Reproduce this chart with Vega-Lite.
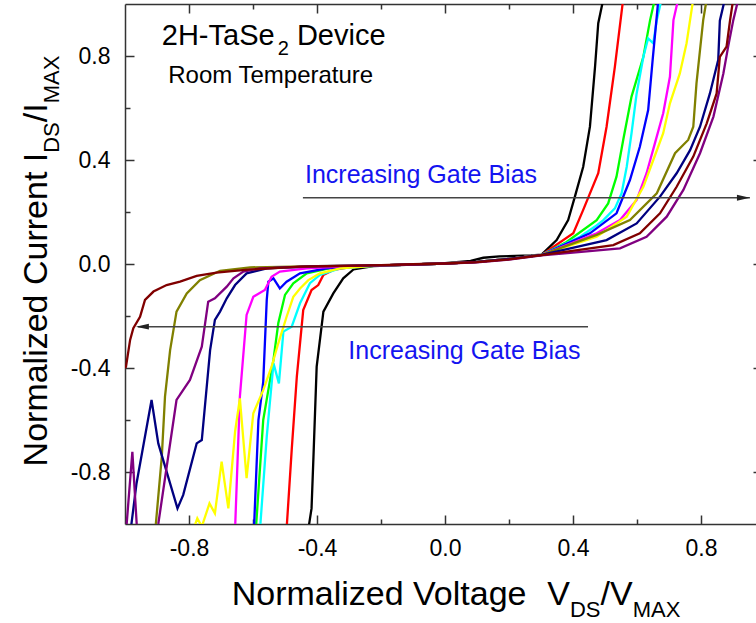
{
  "$schema": "https://vega.github.io/schema/vega-lite/v6.json",
  "autosize": "none",
  "width": 631,
  "height": 520,
  "padding": {"left": 125, "top": 4, "right": 0, "bottom": 99},
  "background": "white",
  "config": {"view": {"stroke": null}},
  "resolve": {"axis": {"x": "independent", "y": "independent"}},
  "layer": [
    {
      "data": {"values": [
        {"s":"G01","x":-0.427,"y":-1.02},{"s":"G01","x":-0.417,"y":-0.94},{"s":"G01","x":-0.411,"y":-0.741},{"s":"G01","x":-0.401,"y":-0.395},{"s":"G01","x":-0.38,"y":-0.183},{"s":"G01","x":-0.349,"y":-0.113},{"s":"G01","x":-0.318,"y":-0.055},{"s":"G01","x":-0.286,"y":-0.021},{"s":"G01","x":-0.224,"y":-0.008},{"s":"G01","x":-0.1,"y":-0.002},{"s":"G01","x":0,"y":0.003},{"s":"G01","x":0.08,"y":0.012},{"s":"G01","x":0.12,"y":0.024},{"s":"G01","x":0.17,"y":0.029},{"s":"G01","x":0.22,"y":0.031},{"s":"G01","x":0.27,"y":0.033},{"s":"G01","x":0.302,"y":0.036},{"s":"G01","x":0.349,"y":0.092},{"s":"G01","x":0.385,"y":0.169},{"s":"G01","x":0.406,"y":0.259},{"s":"G01","x":0.432,"y":0.374},{"s":"G01","x":0.453,"y":0.528},{"s":"G01","x":0.469,"y":0.759},{"s":"G01","x":0.479,"y":0.926},{"s":"G01","x":0.495,"y":1.02},
        {"s":"G02","x":-0.495,"y":-1.02},{"s":"G02","x":-0.479,"y":-0.715},{"s":"G02","x":-0.463,"y":-0.433},{"s":"G02","x":-0.443,"y":-0.177},{"s":"G02","x":-0.417,"y":-0.1},{"s":"G02","x":-0.396,"y":-0.081},{"s":"G02","x":-0.38,"y":-0.042},{"s":"G02","x":-0.349,"y":-0.023},{"s":"G02","x":-0.286,"y":-0.01},{"s":"G02","x":-0.2,"y":-0.005},{"s":"G02","x":-0.1,"y":-0.002},{"s":"G02","x":0,"y":0.002},{"s":"G02","x":0.1,"y":0.008},{"s":"G02","x":0.2,"y":0.02},{"s":"G02","x":0.302,"y":0.035},{"s":"G02","x":0.401,"y":0.118},{"s":"G02","x":0.432,"y":0.208},{"s":"G02","x":0.479,"y":0.349},{"s":"G02","x":0.505,"y":0.528},{"s":"G02","x":0.531,"y":0.759},{"s":"G02","x":0.557,"y":1.02},
        {"s":"G03","x":-0.591,"y":-1.02},{"s":"G03","x":-0.568,"y":-0.6},{"s":"G03","x":-0.536,"y":-0.369},{"s":"G03","x":-0.521,"y":-0.228},{"s":"G03","x":-0.5,"y":-0.119},{"s":"G03","x":-0.474,"y":-0.074},{"s":"G03","x":-0.432,"y":-0.036},{"s":"G03","x":-0.349,"y":-0.013},{"s":"G03","x":-0.2,"y":-0.005},{"s":"G03","x":-0.1,"y":-0.002},{"s":"G03","x":0,"y":0.002},{"s":"G03","x":0.1,"y":0.008},{"s":"G03","x":0.2,"y":0.02},{"s":"G03","x":0.302,"y":0.035},{"s":"G03","x":0.38,"y":0.085},{"s":"G03","x":0.474,"y":0.169},{"s":"G03","x":0.51,"y":0.233},{"s":"G03","x":0.536,"y":0.336},{"s":"G03","x":0.557,"y":0.477},{"s":"G03","x":0.583,"y":0.644},{"s":"G03","x":0.62,"y":0.797},{"s":"G03","x":0.641,"y":0.938},{"s":"G03","x":0.656,"y":1.02},
        {"s":"G04","x":-0.578,"y":-1.02},{"s":"G04","x":-0.557,"y":-0.664},{"s":"G04","x":-0.536,"y":-0.382},{"s":"G04","x":-0.519,"y":-0.459},{"s":"G04","x":-0.505,"y":-0.26},{"s":"G04","x":-0.479,"y":-0.241},{"s":"G04","x":-0.453,"y":-0.151},{"s":"G04","x":-0.422,"y":-0.074},{"s":"G04","x":-0.391,"y":-0.042},{"s":"G04","x":-0.328,"y":-0.017},{"s":"G04","x":-0.2,"y":-0.005},{"s":"G04","x":-0.1,"y":-0.002},{"s":"G04","x":0,"y":0.002},{"s":"G04","x":0.1,"y":0.008},{"s":"G04","x":0.2,"y":0.02},{"s":"G04","x":0.302,"y":0.035},{"s":"G04","x":0.422,"y":0.105},{"s":"G04","x":0.469,"y":0.144},{"s":"G04","x":0.495,"y":0.169},{"s":"G04","x":0.531,"y":0.214},{"s":"G04","x":0.552,"y":0.272},{"s":"G04","x":0.568,"y":0.374},{"s":"G04","x":0.583,"y":0.503},{"s":"G04","x":0.599,"y":0.656},{"s":"G04","x":0.62,"y":0.797},{"s":"G04","x":0.635,"y":0.868},{"s":"G04","x":0.651,"y":0.849},{"s":"G04","x":0.662,"y":0.938},{"s":"G04","x":0.677,"y":1.02},
        {"s":"G05","x":-0.597,"y":-1.02},{"s":"G05","x":-0.583,"y":-0.6},{"s":"G05","x":-0.568,"y":-0.453},{"s":"G05","x":-0.557,"y":-0.138},{"s":"G05","x":-0.552,"y":-0.068},{"s":"G05","x":-0.536,"y":-0.055},{"s":"G05","x":-0.516,"y":-0.094},{"s":"G05","x":-0.495,"y":-0.068},{"s":"G05","x":-0.453,"y":-0.036},{"s":"G05","x":-0.37,"y":-0.017},{"s":"G05","x":-0.2,"y":-0.005},{"s":"G05","x":-0.1,"y":-0.002},{"s":"G05","x":0,"y":0.002},{"s":"G05","x":0.1,"y":0.008},{"s":"G05","x":0.2,"y":0.02},{"s":"G05","x":0.302,"y":0.035},{"s":"G05","x":0.453,"y":0.118},{"s":"G05","x":0.536,"y":0.195},{"s":"G05","x":0.578,"y":0.323},{"s":"G05","x":0.609,"y":0.451},{"s":"G05","x":0.635,"y":0.592},{"s":"G05","x":0.649,"y":0.785},{"s":"G05","x":0.667,"y":1.02},
        {"s":"G06","x":-0.656,"y":-1.02},{"s":"G06","x":-0.641,"y":-0.51},{"s":"G06","x":-0.62,"y":-0.196},{"s":"G06","x":-0.599,"y":-0.126},{"s":"G06","x":-0.563,"y":-0.1},{"s":"G06","x":-0.542,"y":-0.049},{"s":"G06","x":-0.516,"y":-0.029},{"s":"G06","x":-0.432,"y":-0.017},{"s":"G06","x":-0.3,"y":-0.008},{"s":"G06","x":-0.2,"y":-0.005},{"s":"G06","x":-0.1,"y":-0.002},{"s":"G06","x":0,"y":0.002},{"s":"G06","x":0.1,"y":0.008},{"s":"G06","x":0.2,"y":0.02},{"s":"G06","x":0.302,"y":0.035},{"s":"G06","x":0.474,"y":0.118},{"s":"G06","x":0.547,"y":0.169},{"s":"G06","x":0.599,"y":0.246},{"s":"G06","x":0.63,"y":0.349},{"s":"G06","x":0.656,"y":0.464},{"s":"G06","x":0.682,"y":0.58},{"s":"G06","x":0.703,"y":0.72},{"s":"G06","x":0.714,"y":0.938},{"s":"G06","x":0.729,"y":1.02},
        {"s":"G07","x":-0.786,"y":-1.02},{"s":"G07","x":-0.774,"y":-0.978},{"s":"G07","x":-0.76,"y":-1.01},{"s":"G07","x":-0.736,"y":-0.921},{"s":"G07","x":-0.719,"y":-0.959},{"s":"G07","x":-0.698,"y":-0.76},{"s":"G07","x":-0.677,"y":-0.94},{"s":"G07","x":-0.656,"y":-0.645},{"s":"G07","x":-0.641,"y":-0.517},{"s":"G07","x":-0.62,"y":-0.824},{"s":"G07","x":-0.599,"y":-0.574},{"s":"G07","x":-0.568,"y":-0.485},{"s":"G07","x":-0.542,"y":-0.395},{"s":"G07","x":-0.521,"y":-0.305},{"s":"G07","x":-0.495,"y":-0.203},{"s":"G07","x":-0.474,"y":-0.126},{"s":"G07","x":-0.453,"y":-0.094},{"s":"G07","x":-0.427,"y":-0.062},{"s":"G07","x":-0.391,"y":-0.036},{"s":"G07","x":-0.328,"y":-0.017},{"s":"G07","x":-0.2,"y":-0.005},{"s":"G07","x":-0.1,"y":-0.002},{"s":"G07","x":0,"y":0.002},{"s":"G07","x":0.1,"y":0.008},{"s":"G07","x":0.2,"y":0.02},{"s":"G07","x":0.302,"y":0.035},{"s":"G07","x":0.474,"y":0.105},{"s":"G07","x":0.568,"y":0.182},{"s":"G07","x":0.62,"y":0.297},{"s":"G07","x":0.651,"y":0.4},{"s":"G07","x":0.682,"y":0.503},{"s":"G07","x":0.703,"y":0.618},{"s":"G07","x":0.734,"y":0.733},{"s":"G07","x":0.755,"y":0.849},{"s":"G07","x":0.776,"y":1.02},
        {"s":"G08","x":-0.905,"y":-1.02},{"s":"G08","x":-0.885,"y":-0.741},{"s":"G08","x":-0.875,"y":-0.51},{"s":"G08","x":-0.859,"y":-0.331},{"s":"G08","x":-0.839,"y":-0.183},{"s":"G08","x":-0.807,"y":-0.113},{"s":"G08","x":-0.766,"y":-0.062},{"s":"G08","x":-0.703,"y":-0.026},{"s":"G08","x":-0.609,"y":-0.013},{"s":"G08","x":-0.4,"y":-0.008},{"s":"G08","x":-0.2,"y":-0.005},{"s":"G08","x":-0.1,"y":-0.002},{"s":"G08","x":0,"y":0.002},{"s":"G08","x":0.1,"y":0.008},{"s":"G08","x":0.2,"y":0.02},{"s":"G08","x":0.302,"y":0.035},{"s":"G08","x":0.474,"y":0.112},{"s":"G08","x":0.578,"y":0.169},{"s":"G08","x":0.662,"y":0.272},{"s":"G08","x":0.719,"y":0.426},{"s":"G08","x":0.76,"y":0.477},{"s":"G08","x":0.776,"y":0.528},{"s":"G08","x":0.786,"y":0.695},{"s":"G08","x":0.797,"y":0.823},{"s":"G08","x":0.807,"y":0.938},{"s":"G08","x":0.818,"y":1.02},
        {"s":"G09","x":-0.985,"y":-1.05},{"s":"G09","x":-0.964,"y":-0.844},{"s":"G09","x":-0.917,"y":-0.523},{"s":"G09","x":-0.896,"y":-0.69},{"s":"G09","x":-0.836,"y":-0.94},{"s":"G09","x":-0.818,"y":-0.888},{"s":"G09","x":-0.776,"y":-0.69},{"s":"G09","x":-0.76,"y":-0.677},{"s":"G09","x":-0.734,"y":-0.331},{"s":"G09","x":-0.719,"y":-0.215},{"s":"G09","x":-0.703,"y":-0.183},{"s":"G09","x":-0.682,"y":-0.132},{"s":"G09","x":-0.656,"y":-0.081},{"s":"G09","x":-0.62,"y":-0.036},{"s":"G09","x":-0.557,"y":-0.017},{"s":"G09","x":-0.4,"y":-0.008},{"s":"G09","x":-0.2,"y":-0.005},{"s":"G09","x":-0.1,"y":-0.002},{"s":"G09","x":0,"y":0.002},{"s":"G09","x":0.1,"y":0.008},{"s":"G09","x":0.2,"y":0.02},{"s":"G09","x":0.302,"y":0.035},{"s":"G09","x":0.505,"y":0.092},{"s":"G09","x":0.599,"y":0.156},{"s":"G09","x":0.672,"y":0.259},{"s":"G09","x":0.724,"y":0.349},{"s":"G09","x":0.766,"y":0.438},{"s":"G09","x":0.797,"y":0.528},{"s":"G09","x":0.828,"y":0.656},{"s":"G09","x":0.854,"y":0.785},{"s":"G09","x":0.859,"y":0.936},{"s":"G09","x":0.875,"y":1.02},
        {"s":"G10","x":-0.998,"y":-1.05},{"s":"G10","x":-0.977,"y":-0.722},{"s":"G10","x":-0.961,"y":-1.05},{"s":"G10","x":-0.93,"y":-1.15},{"s":"G10","x":-0.896,"y":-1.0},{"s":"G10","x":-0.839,"y":-0.523},{"s":"G10","x":-0.797,"y":-0.446},{"s":"G10","x":-0.76,"y":-0.318},{"s":"G10","x":-0.74,"y":-0.145},{"s":"G10","x":-0.719,"y":-0.132},{"s":"G10","x":-0.682,"y":-0.087},{"s":"G10","x":-0.661,"y":-0.055},{"s":"G10","x":-0.63,"y":-0.029},{"s":"G10","x":-0.578,"y":-0.017},{"s":"G10","x":-0.4,"y":-0.009},{"s":"G10","x":-0.2,"y":-0.005},{"s":"G10","x":-0.1,"y":-0.002},{"s":"G10","x":0,"y":0.002},{"s":"G10","x":0.1,"y":0.006},{"s":"G10","x":0.2,"y":0.017},{"s":"G10","x":0.302,"y":0.033},{"s":"G10","x":0.547,"y":0.06},{"s":"G10","x":0.63,"y":0.105},{"s":"G10","x":0.693,"y":0.182},{"s":"G10","x":0.745,"y":0.285},{"s":"G10","x":0.797,"y":0.426},{"s":"G10","x":0.839,"y":0.567},{"s":"G10","x":0.87,"y":0.733},{"s":"G10","x":0.885,"y":0.836},{"s":"G10","x":0.901,"y":0.938},{"s":"G10","x":0.917,"y":1.02},
        {"s":"G11","x":-1.0,"y":-0.4},{"s":"G11","x":-0.997,"y":-0.395},{"s":"G11","x":-0.984,"y":-0.292},{"s":"G11","x":-0.974,"y":-0.247},{"s":"G11","x":-0.953,"y":-0.203},{"s":"G11","x":-0.9375,"y":-0.138},{"s":"G11","x":-0.911,"y":-0.106},{"s":"G11","x":-0.87,"y":-0.081},{"s":"G11","x":-0.828,"y":-0.068},{"s":"G11","x":-0.776,"y":-0.046},{"s":"G11","x":-0.714,"y":-0.033},{"s":"G11","x":-0.609,"y":-0.021},{"s":"G11","x":-0.453,"y":-0.01},{"s":"G11","x":-0.2,"y":-0.004},{"s":"G11","x":-0.1,"y":-0.001},{"s":"G11","x":0,"y":0.002},{"s":"G11","x":0.1,"y":0.007},{"s":"G11","x":0.2,"y":0.018},{"s":"G11","x":0.302,"y":0.034},{"s":"G11","x":0.526,"y":0.073},{"s":"G11","x":0.609,"y":0.118},{"s":"G11","x":0.672,"y":0.195},{"s":"G11","x":0.724,"y":0.297},{"s":"G11","x":0.776,"y":0.413},{"s":"G11","x":0.818,"y":0.541},{"s":"G11","x":0.849,"y":0.656},{"s":"G11","x":0.859,"y":0.797},{"s":"G11","x":0.88,"y":0.836},{"s":"G11","x":0.891,"y":0.938},{"s":"G11","x":0.901,"y":1.02}
      ]},
      "mark": {"type": "line", "strokeWidth": 2.3, "clip": true},
      "encoding": {
        "x": {"field": "x", "type": "quantitative",
          "scale": {"domain": [-1, 0.972], "nice": false, "zero": false},
          "axis": {"orient": "bottom", "title": null, "grid": false,
            "values": [-0.8, -0.6, -0.4, -0.2, 0, 0.2, 0.4, 0.6, 0.8],
            "labelExpr": "round(datum.value*10) % 4 == 0 ? (datum.value < 0 ? '-' : '') + format(abs(datum.value), '.1f') : ''",
            "tickSize": {"condition": {"test": "round(datum.value*10) % 4 == 0", "value": -9}, "value": -5},
            "labelPadding": 22, "domainColor": "#333", "domainWidth": 1.5, "tickColor": "#333", "tickWidth": 1.5,
            "labelFont": "Liberation Sans", "labelFontSize": 23, "labelColor": "#000", "labelFlush": false, "labelOverlap": false}},
        "y": {"field": "y", "type": "quantitative",
          "scale": {"domain": [-1, 1], "nice": false, "zero": false},
          "axis": {"orient": "left", "title": null, "grid": false,
            "values": [-0.8, -0.6, -0.4, -0.2, 0, 0.2, 0.4, 0.6, 0.8],
            "labelExpr": "round(datum.value*10) % 4 == 0 ? (datum.value < 0 ? '-' : '') + format(abs(datum.value), '.1f') : ''",
            "tickSize": {"condition": {"test": "round(datum.value*10) % 4 == 0", "value": -9}, "value": -5},
            "labelPadding": 24, "domainColor": "#333", "domainWidth": 1.5, "tickColor": "#333", "tickWidth": 1.5,
            "labelFont": "Liberation Sans", "labelFontSize": 23, "labelColor": "#000", "labelFlush": false, "labelOverlap": false}},
        "color": {"field": "s", "type": "nominal", "legend": null,
          "scale": {"domain": ["G01","G02","G03","G04","G05","G06","G07","G08","G09","G10","G11"],
            "range": ["#000000","#ff0000","#00ff00","#00ffff","#0000ff","#ff00ff","#ffff00","#808000","#000080","#800080","#800000"]}}
      }
    },
    {
      "data": {"values": [{"x": -0.444, "x2": 0.953, "y": 0.255}, {"x": -0.96, "x2": 0.447, "y": -0.241}]},
      "mark": {"type": "rule", "color": "#444", "strokeWidth": 1.5},
      "encoding": {
        "x": {"field": "x", "type": "quantitative",
          "axis": {"orient": "top", "title": null, "labels": false, "grid": false,
            "values": [-0.8, -0.6, -0.4, -0.2, 0, 0.2, 0.4, 0.6, 0.8],
            "tickSize": {"condition": {"test": "round(datum.value*10) % 4 == 0", "value": -9}, "value": -5},
            "domainColor": "#333", "domainWidth": 1.5, "tickColor": "#333", "tickWidth": 1.5}},
        "x2": {"field": "x2"},
        "y": {"field": "y", "type": "quantitative",
          "axis": {"orient": "right", "title": null, "labels": false, "grid": false, "domain": false, "offset": 9,
            "values": [-0.8, -0.6, -0.4, -0.2, 0, 0.2, 0.4, 0.6, 0.8],
            "tickSize": {"condition": {"test": "round(datum.value*10) % 4 == 0", "value": -12}, "value": -5},
            "tickColor": "#333", "tickWidth": 1.5}}
      }
    },
    {
      "data": {"values": [{"x": 0.953, "y": 0.255}]},
      "mark": {"type": "point", "shape": "M0,0L-2,-0.45L-2,0.45Z", "filled": true, "size": 169, "color": "#222", "opacity": 1},
      "encoding": {
        "x": {"field": "x", "type": "quantitative", "axis": null},
        "y": {"field": "y", "type": "quantitative", "axis": null}
      }
    },
    {
      "data": {"values": [{"x": -0.966, "y": -0.241}]},
      "mark": {"type": "point", "shape": "M0,0L2,-0.45L2,0.45Z", "filled": true, "size": 169, "color": "#222", "opacity": 1},
      "encoding": {
        "x": {"field": "x", "type": "quantitative", "axis": null},
        "y": {"field": "y", "type": "quantitative", "axis": null}
      }
    },
    {
      "data": {"values": [{"x": -0.885, "y": 0.842, "t": "2H-TaSe"}, {"x": -0.4628, "y": 0.842, "t": "Device"}]},
      "mark": {"type": "text", "align": "left", "baseline": "alphabetic", "font": "Liberation Sans", "fontSize": 29, "color": "#000"},
      "encoding": {
        "x": {"field": "x", "type": "quantitative", "axis": null},
        "y": {"field": "y", "type": "quantitative", "axis": null},
        "text": {"field": "t"}
      }
    },
    {
      "data": {"values": [{"x": -0.5228, "y": 0.804, "t": "2"}]},
      "mark": {"type": "text", "align": "left", "baseline": "alphabetic", "font": "Liberation Sans", "fontSize": 20, "color": "#000"},
      "encoding": {
        "x": {"field": "x", "type": "quantitative", "axis": null},
        "y": {"field": "y", "type": "quantitative", "axis": null},
        "text": {"field": "t"}
      }
    },
    {
      "data": {"values": [{"x": -0.865, "y": 0.695, "t": "Room Temperature"}]},
      "mark": {"type": "text", "align": "left", "baseline": "alphabetic", "font": "Liberation Sans", "fontSize": 24, "color": "#000"},
      "encoding": {
        "x": {"field": "x", "type": "quantitative", "axis": null},
        "y": {"field": "y", "type": "quantitative", "axis": null},
        "text": {"field": "t"}
      }
    },
    {
      "data": {"values": [{"x": -0.4375, "y": 0.313, "t": "Increasing Gate Bias"}, {"x": -0.302, "y": -0.367, "t": "Increasing Gate Bias"}]},
      "mark": {"type": "text", "align": "left", "baseline": "alphabetic", "font": "Liberation Sans", "fontSize": 25, "color": "#1414f0"},
      "encoding": {
        "x": {"field": "x", "type": "quantitative", "axis": null},
        "y": {"field": "y", "type": "quantitative", "axis": null},
        "text": {"field": "t"}
      }
    },
    {
      "data": {"values": [{"x": -0.6666, "y": -1.3115, "t": "Normalized Voltage"}, {"x": 0.3197, "y": -1.3115, "t": "V"}, {"x": 0.4862, "y": -1.3115, "t": "/V"}]},
      "mark": {"type": "text", "align": "left", "baseline": "alphabetic", "font": "Liberation Sans", "fontSize": 34, "color": "#000"},
      "encoding": {
        "x": {"field": "x", "type": "quantitative", "axis": null},
        "y": {"field": "y", "type": "quantitative", "axis": null},
        "text": {"field": "t"}
      }
    },
    {
      "data": {"values": [{"x": 0.3906, "y": -1.3577, "t": "DS"}, {"x": 0.5866, "y": -1.3577, "t": "MAX"}]},
      "mark": {"type": "text", "align": "left", "baseline": "alphabetic", "font": "Liberation Sans", "fontSize": 22, "color": "#000"},
      "encoding": {
        "x": {"field": "x", "type": "quantitative", "axis": null},
        "y": {"field": "y", "type": "quantitative", "axis": null},
        "text": {"field": "t"}
      }
    },
    {
      "data": {"values": [{"x": -1.2438, "y": -0.7785, "t": "Normalized Current I"}, {"x": -1.2438, "y": 0.5454, "t": "/I"}]},
      "mark": {"type": "text", "align": "left", "baseline": "alphabetic", "angle": 270, "font": "Liberation Sans", "fontSize": 34, "color": "#000"},
      "encoding": {
        "x": {"field": "x", "type": "quantitative", "axis": null},
        "y": {"field": "y", "type": "quantitative", "axis": null},
        "text": {"field": "t"}
      }
    },
    {
      "data": {"values": [{"x": -1.2063, "y": 0.4277, "t": "DS"}, {"x": -1.2063, "y": 0.6181, "t": "MAX"}]},
      "mark": {"type": "text", "align": "left", "baseline": "alphabetic", "angle": 270, "font": "Liberation Sans", "fontSize": 22, "color": "#000"},
      "encoding": {
        "x": {"field": "x", "type": "quantitative", "axis": null},
        "y": {"field": "y", "type": "quantitative", "axis": null},
        "text": {"field": "t"}
      }
    }
  ]
}
